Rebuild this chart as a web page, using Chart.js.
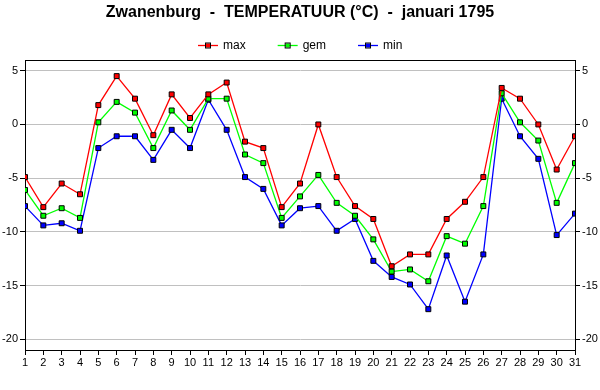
<!DOCTYPE html>
<html>
<head>
<meta charset="utf-8">
<script src="https://cdn.jsdelivr.net/npm/chart.js@4.4.1/dist/chart.umd.min.js"></script>
<style>
  html, body { margin: 0; padding: 0; background: #fff; }
  #wrap { width: 600px; height: 390px; }
</style>
</head>
<body>
<div id="wrap"><canvas id="chart" width="600" height="390"></canvas></div>
<script>
// dagen van januari 1795
const days = Array.from({ length: 31 }, (_, i) => i + 1);
const tMax = [-4.9, -7.7, -5.5, -6.5, 1.8, 4.5, 2.4, -1.0, 2.8, 0.6, 2.8, 3.9, -1.6, -2.2, -7.7, -5.5, 0.0, -4.9, -7.6, -8.8, -13.2, -12.1, -12.1, -8.8, -7.2, -4.9, 3.4, 2.4, 0.0, -4.2, -1.1];
const tGem = [-6.1, -8.5, -7.8, -8.7, 0.2, 2.1, 1.1, -2.2, 1.3, -0.5, 2.4, 2.4, -2.8, -3.6, -8.7, -6.7, -4.7, -7.3, -8.5, -10.7, -13.7, -13.5, -14.6, -10.4, -11.1, -7.6, 2.9, 0.2, -1.5, -7.3, -3.6];
const tMin = [-7.6, -9.4, -9.2, -9.9, -2.2, -1.1, -1.1, -3.3, -0.5, -2.2, 2.3, -0.5, -4.9, -6.0, -9.4, -7.8, -7.6, -9.9, -8.8, -12.7, -14.2, -14.9, -17.2, -12.2, -16.5, -12.1, 2.4, -1.1, -3.2, -10.3, -8.3];
const yTicks = [-20, -15, -10, -5, 0, 5];

const FONT = 'Arial, "Liberation Sans", sans-serif';

function series(label, data, color) {
    return {
        label: label,
        data: data.map((v, i) => ({ x: days[i], y: v })),
        borderColor: color,
        backgroundColor: color,
        borderWidth: 1.3,
        pointStyle: 'rect',
        pointRadius: 3.5,
        pointBorderColor: '#000',
        pointBorderWidth: 1,
        pointBackgroundColor: color,
        tension: 0
    };
}

// top border of the plot + legend row (line with square marker, then label)
const decor = {
    id: 'decor',
    afterDraw(chart) {
        const a = chart.chartArea, ctx = chart.ctx;
        ctx.save();
        ctx.strokeStyle = '#000';
        ctx.lineWidth = 1;
        ctx.beginPath();
        ctx.moveTo(a.left, a.top + 0.5);
        ctx.lineTo(a.right, a.top + 0.5);
        ctx.stroke();

        ctx.font = '12px ' + FONT;
        ctx.textBaseline = 'middle';
        const sets = chart.data.datasets;
        const lineW = 20, gap = 5, after = 32;
        const widths = sets.map(d => ctx.measureText(d.label).width);
        let total = 0;
        widths.forEach((w, i) => { total += lineW + gap + w + (i < widths.length - 1 ? after : 0); });
        let x = Math.round(300 - total / 2);
        const y = 45.5;
        sets.forEach((d, i) => {
            ctx.strokeStyle = d.borderColor;
            ctx.lineWidth = 1.3;
            ctx.beginPath(); ctx.moveTo(x, y); ctx.lineTo(x + lineW, y); ctx.stroke();
            ctx.fillStyle = d.borderColor;
            ctx.fillRect(x + 8, y - 2, 4, 4);
            ctx.strokeStyle = '#000';
            ctx.lineWidth = 1;
            ctx.strokeRect(x + 7.5, y - 2.5, 5, 5);
            ctx.fillStyle = '#000';
            ctx.fillText(d.label, x + lineW + gap, y);
            x += lineW + gap + widths[i] + after;
        });
        ctx.restore();
    }
};

function yAxis(pos) {
    return {
        type: 'linear',
        position: pos,
        min: -21,
        max: 6,
        afterBuildTicks: ax => { ax.ticks = yTicks.map(v => ({ value: v })); },
        afterFit: ax => { ax.width = 25; },
        grid: {
            drawOnChartArea: pos === 'left',
            color: '#c0c0c0',
            tickColor: '#000',
            tickLength: 5
        },
        border: { color: '#000', width: 1 },
        ticks: {
            color: '#000',
            font: { family: FONT, size: 11 },
            padding: 2
        }
    };
}

new Chart(document.getElementById('chart'), {
    type: 'line',
    data: {
        datasets: [
            series('max', tMax, '#ff0000'),
            series('gem', tGem, '#00ff00'),
            series('min', tMin, '#0000ff')
        ]
    },
    options: {
        responsive: false,
        animation: false,
        layout: { padding: 0 },
        plugins: {
            title: {
                display: true,
                text: 'Zwanenburg  -  TEMPERATUUR (°C)  -  januari 1795',
                color: '#000',
                font: { family: FONT, size: 16, weight: 'bold' },
                padding: { top: 3, bottom: 37.8 }
            },
            legend: { display: false },
            tooltip: { enabled: false }
        },
        scales: {
            x: {
                type: 'linear',
                min: 1,
                max: 31,
                afterBuildTicks: ax => { ax.ticks = days.map(v => ({ value: v })); },
                afterFit: ax => { ax.height = 40; },
                grid: { drawOnChartArea: false, tickColor: '#000', tickLength: 5 },
                border: { color: '#000', width: 1 },
                ticks: {
                    color: '#000',
                    font: { family: FONT, size: 11 },
                    padding: 1,
                    maxRotation: 0,
                    autoSkip: false
                }
            },
            y: yAxis('left'),
            y2: yAxis('right')
        }
    },
    plugins: [decor]
});
</script>
</body>
</html>
